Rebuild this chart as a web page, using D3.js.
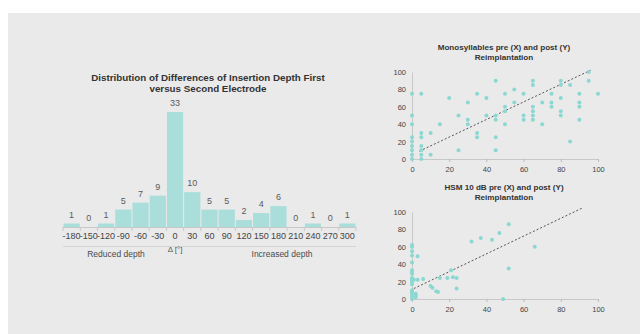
<!DOCTYPE html>
<html lang="en">
<head>
    <meta charset="UTF-8">
    <title>Insertion depth</title>
    <script src="https://cdn.jsdelivr.net/npm/d3@7/dist/d3.min.js"></script>
    <style>
        body { margin: 0; background: #fff; }
        svg { display: block; font-family: "Liberation Sans", Arial, sans-serif; }
        .tick line { stroke: #bbb; }
        .domain { stroke: #c8c8c8; }
        .tick text { fill: #444; }
    </style>
</head>
<body>
<script>
    // histogram data
    const bins = [-180, -150, -120, -90, -60, -30, 0, 30, 60, 90, 120, 150, 180, 210, 240, 270, 300];
    const counts = [1, 0, 1, 5, 7, 9, 33, 10, 5, 5, 2, 4, 6, 0, 1, 0, 1];

    // monosyllables pre / post
    const monoX = [0,0,0,0,0,0,0,0,0, 5,5,5,5,5,5,5, 10,10, 15, 20, 25,25, 30,30,30, 35,35,35, 40,40,
        45,45,45,45,45, 50,50,50,50, 55,55, 60,60,60, 65,65,65,65,65,65, 70,70, 75,75,75,
        80,80,80,80,80, 85,85, 90,90,90,90, 95,95, 100];
    const monoY = [75,50,40,25,20,15,10,5,0, 75,30,25,15,10,5,0, 30,5, 40, 70, 50,10, 65,45,40, 75,30,25, 70,50,
        90,50,45,25,10, 75,60,55,40, 80,65, 75,50,45, 90,85,60,55,50,45, 65,40, 75,65,60,
        90,85,70,55,50, 85,20, 75,65,60,45, 100,90, 75];
    const monoTrend = [[4, 9], [96, 102]];

    // HSM 10 dB pre / post
    const hsmX = [0,0,0,0,0,0,0,0,0,0,0,0,0,0,0,0,0, 1,3, 3, 6, 2,2,2, 10,11, 13,14, 15, 19, 21, 22,24, 24,
        32, 37, 43, 47, 52, 52, 66, 49];
    const hsmY = [62,60,55,50,42,33,31,29,24,22,20,17,10,8,6,3,0, 22,22, 49, 23, 6,4,2, 15,13, 9,8, 24, 24, 33, 25,24, 12,
        66, 70, 68, 76, 86, 35, 60, 0];
    const hsmTrend = [[1, 12], [92, 105]];

    const axisTicks = [0, 20, 40, 60, 80, 100];

    const width = 640;
    const height = 334;
    const barColor = '#a9dedb';
    const dotColor = '#8ad8d1';

    let svg = d3.select('body')
        .append('svg')
        .attr('width', width)
        .attr('height', height);

    svg.append('rect')
        .attr('x', 8).attr('y', 13)
        .attr('width', width - 8).attr('height', height - 13)
        .attr('fill', '#eaeaea');

    // ---------- histogram ----------
    let hx = d3.scaleBand().domain(bins).range([63, 356]).paddingInner(0.06).paddingOuter(0.03);
    let hy = d3.scaleLinear().domain([0, 33]).range([227, 112]);

    let hist = svg.append('g');

    hist.append('text')
        .attr('x', 208).attr('y', 81)
        .attr('text-anchor', 'middle')
        .attr('font-size', 9.8).attr('font-weight', 'bold').attr('fill', '#333')
        .text('Distribution of Differences of Insertion Depth First');
    hist.append('text')
        .attr('x', 208).attr('y', 92)
        .attr('text-anchor', 'middle')
        .attr('font-size', 9.8).attr('font-weight', 'bold').attr('fill', '#333')
        .text('versus Second Electrode');

    hist.selectAll('rect.bar')
        .data(counts)
        .enter()
        .append('rect')
        .attr('class', 'bar')
        .attr('x', (d, i) => hx(bins[i]))
        .attr('y', d => hy(d))
        .attr('width', hx.bandwidth())
        .attr('height', d => Math.max(0, 227 - hy(d)))
        .attr('fill', barColor);

    hist.selectAll('text.val')
        .data(counts)
        .enter()
        .append('text')
        .attr('class', 'val')
        .attr('x', (d, i) => hx(bins[i]) + hx.bandwidth() / 2)
        .attr('y', d => hy(d) - 6)
        .attr('text-anchor', 'middle')
        .attr('font-size', 9).attr('fill', '#5a5a5a')
        .text(d => d);

    // baseline + ticks at band edges
    hist.append('line')
        .attr('x1', 63).attr('x2', 356).attr('y1', 227.5).attr('y2', 227.5)
        .attr('stroke', '#c8c8c8');
    hist.selectAll('line.edge')
        .data(bins.concat(['end']))
        .enter()
        .append('line')
        .attr('class', 'edge')
        .attr('x1', (d, i) => i < bins.length ? hx(d) - 0.5 : 356)
        .attr('x2', (d, i) => i < bins.length ? hx(d) - 0.5 : 356)
        .attr('y1', 227).attr('y2', 231)
        .attr('stroke', '#c8c8c8');

    hist.selectAll('text.lab')
        .data(bins)
        .enter()
        .append('text')
        .attr('class', 'lab')
        .attr('x', d => hx(d) + hx.bandwidth() / 2)
        .attr('y', 239)
        .attr('text-anchor', 'middle')
        .attr('font-size', 9).attr('fill', '#444')
        .text(d => d);

    hist.append('line')
        .attr('x1', 63).attr('x2', 356).attr('y1', 246.5).attr('y2', 246.5)
        .attr('stroke', '#d4d4d4');
    hist.append('text')
        .attr('x', hx(0) + hx.bandwidth() / 2).attr('y', 252)
        .attr('text-anchor', 'middle')
        .attr('font-size', 8).attr('fill', '#555')
        .text('Δ [°]');
    hist.append('text')
        .attr('x', 116).attr('y', 257)
        .attr('text-anchor', 'middle')
        .attr('font-size', 8.5).attr('fill', '#4a4a4a')
        .text('Reduced depth');
    hist.append('text')
        .attr('x', 282).attr('y', 257)
        .attr('text-anchor', 'middle')
        .attr('font-size', 8.5).attr('fill', '#4a4a4a')
        .text('Increased depth');

    // ---------- scatter panels ----------
    function drawScatter (xs, ys, trend, title1, title2, top, bottom, titleY) {
        let sx = d3.scaleLinear().domain([0, 100]).range([412, 598]);
        let sy = d3.scaleLinear().domain([0, 100]).range([bottom, top]);
        let g = svg.append('g');

        g.append('text')
            .attr('x', 504).attr('y', titleY)
            .attr('text-anchor', 'middle')
            .attr('font-size', 8.1).attr('font-weight', 'bold').attr('fill', '#333')
            .text(title1);
        g.append('text')
            .attr('x', 504).attr('y', titleY + 9.5)
            .attr('text-anchor', 'middle')
            .attr('font-size', 8.1).attr('font-weight', 'bold').attr('fill', '#333')
            .text(title2);

        g.append('g')
            .attr('transform', `translate(0,${bottom})`)
            .call(d3.axisBottom(sx).tickValues(axisTicks).tickSize(3).tickSizeOuter(0))
            .call(a => a.selectAll('text').attr('font-size', 7.5).attr('dy', '0.9em'));
        g.append('g')
            .attr('transform', 'translate(412,0)')
            .call(d3.axisLeft(sy).tickValues(axisTicks).tickSize(0).tickSizeOuter(0))
            .call(a => a.selectAll('text').attr('font-size', 7.5).attr('x', -6));

        g.append('line')
            .attr('x1', sx(trend[0][0])).attr('y1', sy(trend[0][1]))
            .attr('x2', sx(trend[1][0])).attr('y2', sy(trend[1][1]))
            .attr('stroke', '#555').attr('stroke-width', 1)
            .attr('stroke-dasharray', '2,2');

        g.selectAll('circle')
            .data(xs)
            .enter()
            .append('circle')
            .attr('cx', d => sx(d))
            .attr('cy', (d, i) => sy(ys[i]))
            .attr('r', 2)
            .attr('fill', dotColor);
    }

    drawScatter(monoX, monoY, monoTrend, 'Monosyllables pre (X) and post (Y)', 'Reimplantation', 72, 159, 50);
    drawScatter(hsmX, hsmY, hsmTrend, 'HSM 10 dB pre (X) and post (Y)', 'Reimplantation', 212, 299, 190);
</script>
</body>
</html>
